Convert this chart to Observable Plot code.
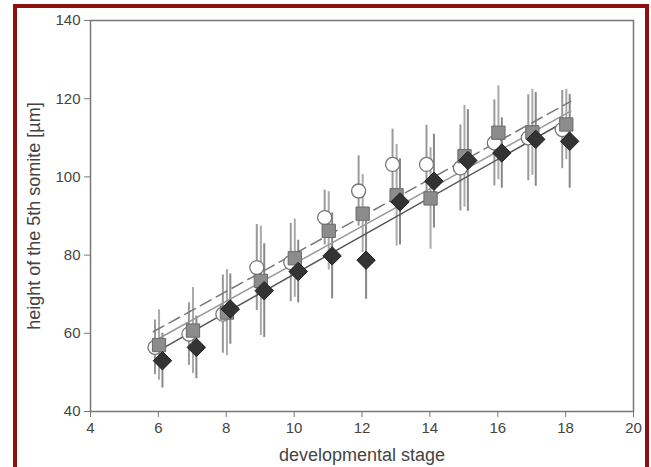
<!DOCTYPE html>
<html>
<head>
<meta charset="utf-8">
<script src="https://cdn.jsdelivr.net/npm/d3@7"></script>
<script src="https://cdn.jsdelivr.net/npm/@observablehq/plot@0.6"></script>
<style>
  body { margin: 0; background: #fff; }
  #wrap { position: relative; width: 651px; height: 467px; overflow: hidden; background: #fff; }
  #border { position: absolute; left: 13px; top: 4px; width: 628px; height: 480px;
            border: 4px solid #8e0f10; border-bottom: none; pointer-events: none; }
  #chart { position: absolute; left: 0; top: 0; }
</style>
</head>
<body>
<div id="wrap"><div id="chart"></div><div id="border"></div></div>
<script>
const stages = [6, 7, 8, 9, 10, 11, 12, 13, 14, 15, 16, 17, 18];
const circleVals  = [56.4, 59.8, 64.9, 76.8, 78.1, 89.6, 96.4, 103.2, 103.2, 102.3, 108.7, 110.0, 112.1];
const squareVals  = [57.0, 60.7, 65.3, 73.4, 79.2, 86.2, 90.6, 95.3, 94.5, 105.3, 111.3, 111.4, 113.4];
const diamondVals = [53.0, 56.4, 66.2, 70.9, 75.8, 79.8, 78.7, 93.6, 98.9, 104.2, 106.1, 109.6, 109.1];
const circleErr  = [7, 8, 10, 11, 10, 7, 9, 9, 10, 11, 11, 11, 10];
const squareErr  = [9, 11, 11, 14, 10, 10, 10, 13, 13, 13, 12, 11, 9];
const diamondErr = [7, 8, 9, 12, 8, 11, 10, 11, 12, 13, 9, 12, 12];
// regression lines: values at the start and end stages
const lineStages = [5.85, 18.15];
const dashedFit = [60.4, 119.3];
const grayFit   = [57.9, 116.8];
const darkFit   = [54.8, 115.0];
const xTicks = [4, 6, 8, 10, 12, 14, 16, 18, 20];
const yTicks = [40, 60, 80, 100, 120, 140];

const offsets = {circle: -0.1, square: 0.02, diamond: 0.12};
function rows(vals, errs, kind) {
  return stages.map((s, i) => ({x: s + offsets[kind], y: vals[i], lo: vals[i] - errs[i], hi: vals[i] + errs[i]}));
}
const C = rows(circleVals, circleErr, "circle");
const S = rows(squareVals, squareErr, "square");
const D = rows(diamondVals, diamondErr, "diamond");
const fit = (f) => lineStages.map((x, i) => ({x, y: f[i]}));

const font = "'Liberation Sans', Arial, sans-serif";
const plot = Plot.plot({
  width: 651, height: 467,
  marginLeft: 90, marginRight: 18, marginTop: 20, marginBottom: 56,
  style: {fontFamily: font, fontSize: "15px", color: "#444", background: "transparent"},
  x: {domain: [4, 20]},
  y: {domain: [40, 140]},
  marks: [
    Plot.ruleX(C, {x: "x", y1: "lo", y2: "hi", stroke: "#999", strokeWidth: 2}),
    Plot.ruleX(S, {x: "x", y1: "lo", y2: "hi", stroke: "#aaa", strokeWidth: 2}),
    Plot.ruleX(D, {x: "x", y1: "lo", y2: "hi", stroke: "#888", strokeWidth: 2}),
    Plot.line(fit(dashedFit), {x: "x", y: "y", stroke: "#777", strokeWidth: 1.5, strokeDasharray: "12,6"}),
    Plot.line(fit(grayFit), {x: "x", y: "y", stroke: "#9a9a9a", strokeWidth: 1.5}),
    Plot.line(fit(darkFit), {x: "x", y: "y", stroke: "#555", strokeWidth: 1.5}),
    Plot.dot(C, {x: "x", y: "y", symbol: "circle", r: 7, fill: "#fff", stroke: "#777", strokeWidth: 1.3}),
    Plot.dot(S, {x: "x", y: "y", symbol: "square", r: 7.5, fill: "#8c8c8c", stroke: "#6a6a6a", strokeWidth: 1}),
    Plot.dot(D, {x: "x", y: "y", symbol: "diamond2", r: 8.3, fill: "#333", stroke: "#222", strokeWidth: 1}),
    Plot.frame({stroke: "#777", strokeWidth: 1.5}),
    Plot.axisX({ticks: xTicks, tickSize: 6, tickPadding: 5, stroke: "#777", fill: "#444", fontSize: 15, label: null}),
    Plot.axisX({ticks: [], label: "developmental stage", labelAnchor: "center", labelArrow: false,
                labelOffset: 49, fontSize: 18, fill: "#444"}),
    Plot.axisY({ticks: yTicks, tickSize: 6, tickPadding: 4, stroke: "#777", fill: "#444", fontSize: 15, label: null}),
    Plot.axisY({ticks: [], label: "height of the 5th somite [µm]", labelAnchor: "center", labelArrow: false,
                labelOffset: 63, fontSize: 18, fill: "#444"})
  ]
});
document.getElementById("chart").appendChild(plot);
</script>
</body>
</html>
